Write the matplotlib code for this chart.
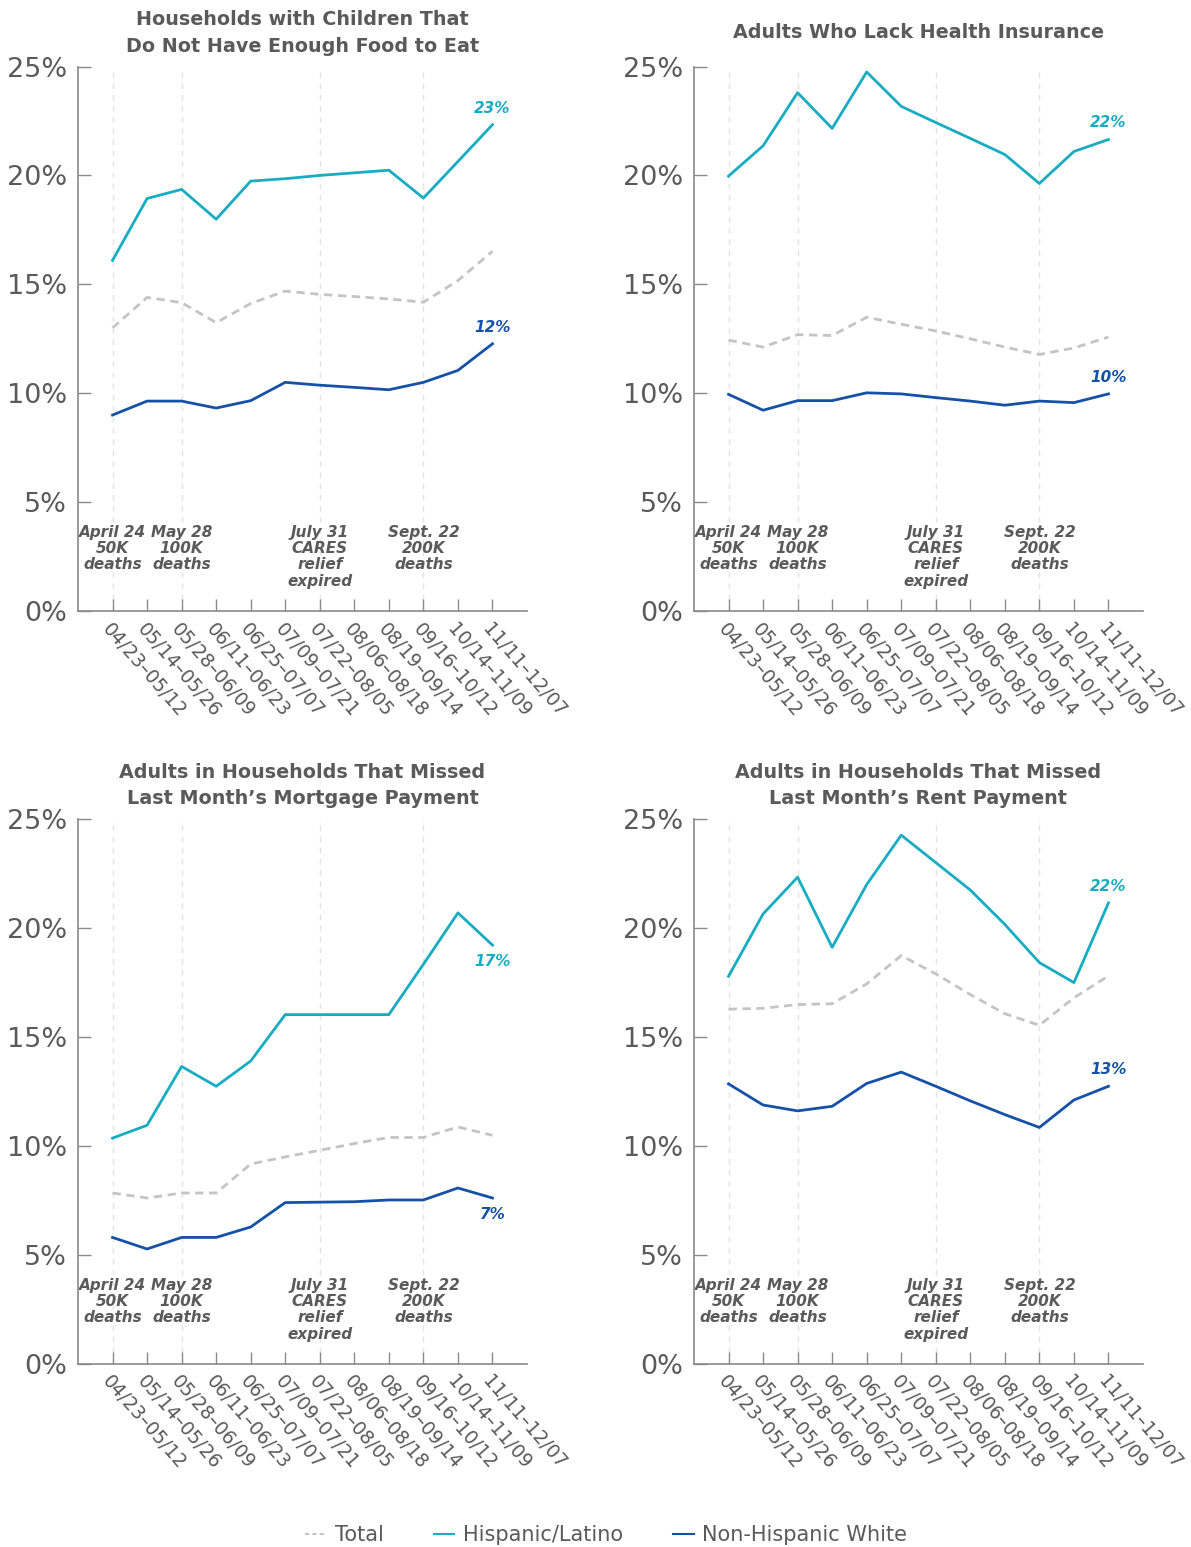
import matplotlib
matplotlib.use('Agg')
import matplotlib.pyplot as plt
from matplotlib.lines import Line2D

# survey weeks (Household Pulse Survey)
weeks = ['04/23–05/12', '05/14–05/26', '05/28–06/09', '06/11–06/23', '06/25–07/07',
         '07/09–07/21', '07/22–08/05', '08/06–08/18', '08/19–09/14', '09/16–10/12',
         '10/14–11/09', '11/11–12/07']

# event annotations
event_labels = ['April 24\n50K\ndeaths', 'May 28\n100K\ndeaths',
                'July 31\nCARES\nrelief\nexpired', 'Sept. 22\n200K\ndeaths']
event_weeks = ['04/23–05/12', '05/28–06/09', '07/22–08/05', '09/16–10/12']

titles = ['Households with Children That\nDo Not Have Enough Food to Eat',
          'Adults Who Lack Health Insurance',
          'Adults in Households That Missed\nLast Month’s Mortgage Payment',
          'Adults in Households That Missed\nLast Month’s Rent Payment']

food_total = [13.0, 14.4, 14.16, 13.24, 14.12, 14.69, 14.54, 14.44, 14.33, 14.18, 15.17, 16.52]
food_hisp = [16.1, 18.94, 19.36, 17.99, 19.74, 19.85, 20.0, 20.12, 20.24, 18.96, 20.64, 22.33]
food_white = [9.0, 9.64, 9.64, 9.32, 9.66, 10.5, 10.37, 10.27, 10.16, 10.5, 11.05, 12.27]

ins_total = [12.44, 12.12, 12.69, 12.65, 13.49, 13.17, 12.86, 12.5, 12.12, 11.78, 12.08, 12.58]
ins_hisp = [19.97, 21.36, 23.8, 22.16, 24.75, 23.17, 22.43, 21.7, 20.96, 19.63, 21.1, 21.65]
ins_white = [9.95, 9.22, 9.66, 9.66, 10.02, 9.97, 9.8, 9.64, 9.45, 9.64, 9.57, 9.97]

mort_total = [7.85, 7.62, 7.85, 7.85, 9.18, 9.51, 9.81, 10.12, 10.4, 10.4, 10.88, 10.5]
mort_hisp = [10.37, 10.96, 13.66, 12.75, 13.91, 16.04, 16.04, 16.04, 16.04, 18.35, 20.71, 19.23]
mort_white = [5.81, 5.28, 5.81, 5.81, 6.29, 7.41, 7.43, 7.45, 7.53, 7.53, 8.08, 7.62]

rent_total = [16.29, 16.33, 16.5, 16.54, 17.45, 18.75, 17.91, 16.96, 16.08, 15.55, 16.81, 17.82]
rent_hisp = [17.8, 20.66, 22.35, 19.13, 22.01, 24.28, 23.02, 21.76, 20.18, 18.43, 17.51, 21.17]
rent_white = [12.86, 11.89, 11.62, 11.83, 12.88, 13.4, 12.75, 12.08, 11.45, 10.86, 12.12, 12.75]

# end-of-line labels as published
hisp_end_labels = ['23%', '22%', '17%', '22%']
white_end_labels = ['12%', '10%', '7%', '13%']

C_TOTAL = '#c4c4c4'
C_HISP = '#17acc1'
C_WHITE = '#1551a6'
C_TEXT = '#5a5a5a'
C_AXIS = '#8a8a8a'


def draw_panel(ax, title, total, hisp, white, hisp_lbl, white_lbl, labels_below):
    x = list(range(len(weeks)))
    for lbl, wk in zip(event_labels, event_weeks):
        ex = weeks.index(wk)
        ax.axvline(ex, color='#e4e4e4', lw=1, ls=(0, (4, 4)), zorder=0)
        ax.text(ex, 3.95, lbl, ha='center', va='top', fontsize=11, fontweight='bold',
                fontstyle='italic', color=C_TEXT, linespacing=1.1, zorder=1)
    ax.plot(x, total, color=C_TOTAL, lw=2, ls=(0, (3, 2)), zorder=2)
    ax.plot(x, hisp, color=C_HISP, lw=2, zorder=3)
    ax.plot(x, white, color=C_WHITE, lw=2, zorder=3)

    off = -12 if labels_below else 12
    ax.annotate(hisp_lbl, (x[-1], hisp[-1]), xytext=(0, off), textcoords='offset points',
                ha='center', va='center', fontsize=11, fontweight='bold',
                fontstyle='italic', color=C_HISP)
    ax.annotate(white_lbl, (x[-1], white[-1]), xytext=(0, off), textcoords='offset points',
                ha='center', va='center', fontsize=11, fontweight='bold',
                fontstyle='italic', color=C_WHITE)

    ax.set_xlim(-1, 12)
    ax.set_ylim(0, 25)
    ax.set_yticks([0, 5, 10, 15, 20, 25])
    ax.set_yticklabels(['0%', '5%', '10%', '15%', '20%', '25%'])
    ax.set_xticks(x)
    ax.set_xticklabels(weeks, rotation=-49, ha='left', va='top', rotation_mode='anchor')
    ax.tick_params(axis='y', direction='in', length=9, width=1, color=C_AXIS,
                   labelsize=19.5, labelcolor=C_TEXT, pad=8)
    ax.tick_params(axis='x', direction='in', length=9, width=1, color=C_AXIS,
                   labelsize=13.5, labelcolor=C_TEXT, pad=6)
    for s in ['top', 'right']:
        ax.spines[s].set_visible(False)
    for s in ['left', 'bottom']:
        ax.spines[s].set_color(C_AXIS)
        ax.spines[s].set_linewidth(1.2)
    ax.text(0.5, 1.062, title, transform=ax.transAxes, ha='center', va='center',
            fontsize=13.8, fontweight='bold', color=C_TEXT, linespacing=1.5)


def main():
    fig = plt.figure(figsize=(11.91, 15.47), dpi=100)
    w = 0.377
    h = 0.352
    axes = [fig.add_axes([0.0655, 0.605, w, h]),
            fig.add_axes([0.5827, 0.605, w, h]),
            fig.add_axes([0.0655, 0.1183, w, h]),
            fig.add_axes([0.5827, 0.1183, w, h])]

    series = [(food_total, food_hisp, food_white),
              (ins_total, ins_hisp, ins_white),
              (mort_total, mort_hisp, mort_white),
              (rent_total, rent_hisp, rent_white)]

    for i, ax in enumerate(axes):
        total, hisp, white = series[i]
        draw_panel(ax, titles[i], total, hisp, white, hisp_end_labels[i],
                   white_end_labels[i], labels_below=(i == 2))

    handles = [Line2D([], [], color=C_TOTAL, lw=1.5, ls=(0, (2, 1.5))),
               Line2D([], [], color=C_HISP, lw=1.5),
               Line2D([], [], color=C_WHITE, lw=1.5)]
    fig.legend(handles, ['Total', 'Hispanic/Latino', 'Non-Hispanic White'],
               loc='center', bbox_to_anchor=(0.509, 1 - 1535 / 1547), ncol=3,
               frameon=False, fontsize=15, handlelength=1.0, handletextpad=0.4,
               columnspacing=2.4, labelcolor=C_TEXT)

    fig.savefig('out.png', dpi=100)


if __name__ == '__main__':
    main()
